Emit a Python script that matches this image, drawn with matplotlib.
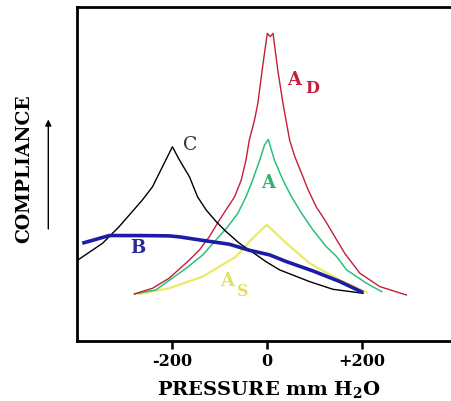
import matplotlib
matplotlib.use("Agg")
import matplotlib.pyplot as plt

# tympanogram types, pressure (mm H2O) vs compliance (arbitrary units)
ad_pressure = [-279, -241, -206, -163, -142, -121, -104, -86, -68, -54, -44, -37, -26, -19, -8,
               1, 7, 13, 23, 34, 48, 59, 73, 87, 104, 122, 143, 164, 196, 238, 294]
ad_compliance = [1.41, 1.58, 1.88, 2.43, 2.73, 3.13, 3.53, 3.93, 4.32, 4.82, 5.42, 6.02, 6.62, 7.12, 8.32,
                 9.22, 9.12, 9.22, 8.12, 7.12, 6.02, 5.52, 5.03, 4.53, 4.02, 3.63, 3.13, 2.63, 2.03, 1.63, 1.38]

a_pressure = [-279, -234, -170, -135, -107, -82, -61, -44, -30, -15, -5, 3, 16, 34, 52, 73, 97,
              125, 147, 168, 210, 242]
a_compliance = [1.41, 1.53, 2.18, 2.58, 3.03, 3.43, 3.83, 4.32, 4.82, 5.42, 5.87, 6.04, 5.42, 4.82,
                4.32, 3.83, 3.33, 2.83, 2.53, 2.13, 1.73, 1.48]

as_pressure = [-269, -206, -135, -65, -30, 0, 41, 90, 147, 210]
as_compliance = [1.41, 1.58, 1.93, 2.53, 3.08, 3.48, 2.93, 2.33, 1.88, 1.46]

c_pressure = [-400, -346, -311, -262, -241, -199, -184, -163, -146, -128, -107, -86, -58, -22, -1,
              27, 90, 139, 203]
c_compliance = [2.41, 2.93, 3.43, 4.23, 4.62, 5.82, 5.42, 4.92, 4.32, 3.93, 3.58, 3.28, 2.93, 2.58,
                2.37, 2.13, 1.78, 1.55, 1.43]

b_pressure = [-389, -332, -269, -206, -184, -128, -79, -37, 6, 41, 97, 154, 203]
b_compliance = [2.93, 3.16, 3.16, 3.15, 3.12, 3.00, 2.90, 2.72, 2.58, 2.38, 2.10, 1.78, 1.45]

tick_values = [-200, 0, 200]
tick_labels = ["-200", "0", "+200"]

plt.rcParams["font.family"] = "DejaVu Serif"
plt.rcParams["mathtext.fontset"] = "dejavuserif"
plt.rcParams["mathtext.default"] = "bf"

fig = plt.figure(figsize=(4.52, 4.01), dpi=100)
ax = fig.add_axes([77 / 452, 60 / 401, 379.7 / 452, 333.7 / 401])

red = "#c41e3a"
green = "#2cc07a"
yellow = "#eaea66"
blue = "#1c1ca8"

ax.plot(as_pressure, as_compliance, color=yellow, lw=1.6)
ax.plot(a_pressure, a_compliance, color=green, lw=1.1)
ax.plot(ad_pressure, ad_compliance, color=red, lw=1.0)
ax.plot(c_pressure, c_compliance, color="black", lw=1.0)
ax.plot(b_pressure, b_compliance, color=blue, lw=2.6, solid_capstyle="butt")

# curve labels
ax.text(-162, 5.86, "C", color="#333333", fontsize=13.5, ha="center", va="center")
ax.text(58, 7.82, "A", color=red, fontsize=13, fontweight="bold", ha="center", va="center")
ax.text(96, 7.56, "D", color=red, fontsize=11.5, fontweight="bold", ha="center", va="center")
ax.text(2, 4.73, "A", color="#33b06c", fontsize=13, fontweight="bold", ha="center", va="center")
ax.text(-272, 2.78, "B", color="#2a2a9a", fontsize=13, fontweight="bold", ha="center", va="center")
ax.text(-84, 1.80, "A", color="#e2de66", fontsize=13, fontweight="bold", ha="center", va="center")
ax.text(-50, 1.48, "S", color="#e2de66", fontsize=11.5, fontweight="bold", ha="center", va="center")

ax.set_xlim(-400, 400)
ax.set_ylim(0, 10)
ax.set_xticks(tick_values)
ax.set_xticklabels(tick_labels, fontsize=11.5, fontweight="bold")
ax.set_yticks([])
ax.tick_params(axis="x", direction="out", length=5.5, width=1.8, pad=3)

for side in ["left", "top", "bottom"]:
    ax.spines[side].set_linewidth(2.0)
ax.spines["right"].set_visible(False)

fig.text(269 / 452, 6 / 401, "PRESSURE mm H$_2$O", fontsize=14, fontweight="bold",
         ha="center", va="baseline")
fig.text(24 / 452, 1 - 169 / 401, "COMPLIANCE", fontsize=13.5, fontweight="bold",
         rotation=90, ha="center", va="center")

# arrow next to the y label
ax.annotate("", xy=(48.3 / 452, 1 - 116.7 / 401), xytext=(48.3 / 452, 1 - 231.7 / 401),
            xycoords="figure fraction", textcoords="figure fraction",
            arrowprops=dict(arrowstyle="-|>", color="black", lw=1.0, mutation_scale=9))

fig.savefig("out.png", dpi=100)
